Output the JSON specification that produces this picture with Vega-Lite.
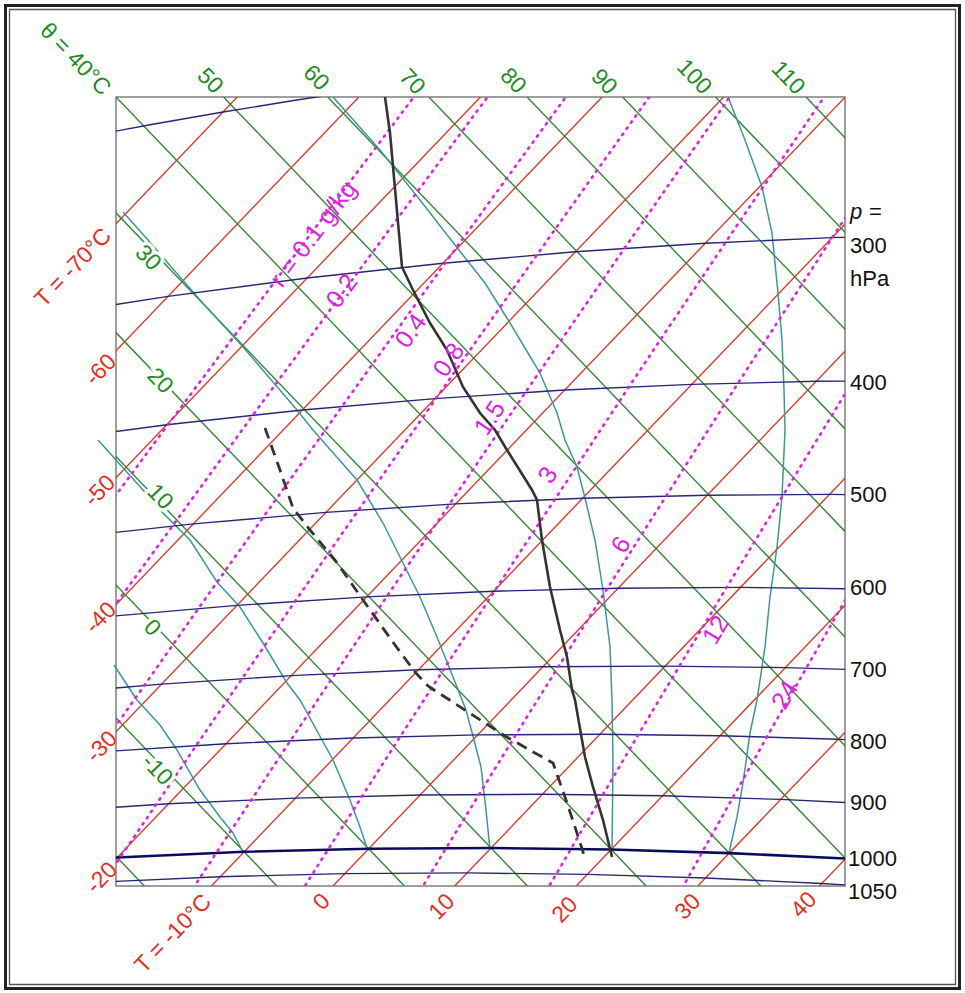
{
  "$schema": "https://vega.github.io/schema/vega-lite/v6.json",
  "width": 729,
  "height": 789,
  "autosize": {"type": "none"},
  "padding": {"left": 116, "top": 97, "right": 120, "bottom": 107},
  "background": "white",
  "config": {
    "view": {"stroke": "#7f7f7f", "strokeWidth": 1.5},
    "font": "Liberation Sans",
    "axis": {"disable": true}
  },
  "datasets": {
    "iso": [
      {"T": -70, "x": -634.2, "y": 0}, {"T": -70, "x": 121.3, "y": 789},
      {"T": -60, "x": -512.6, "y": 0}, {"T": -60, "x": 242.9, "y": 789},
      {"T": -50, "x": -391.0, "y": 0}, {"T": -50, "x": 364.5, "y": 789},
      {"T": -40, "x": -269.4, "y": 0}, {"T": -40, "x": 486.1, "y": 789},
      {"T": -30, "x": -147.8, "y": 0}, {"T": -30, "x": 607.7, "y": 789},
      {"T": -20, "x": -26.2, "y": 0}, {"T": -20, "x": 729.3, "y": 789},
      {"T": -10, "x": 95.4, "y": 0}, {"T": -10, "x": 850.9, "y": 789},
      {"T": 0, "x": 217.0, "y": 0}, {"T": 0, "x": 972.5, "y": 789},
      {"T": 10, "x": 338.6, "y": 0}, {"T": 10, "x": 1094.1, "y": 789},
      {"T": 20, "x": 460.2, "y": 0}, {"T": 20, "x": 1215.7, "y": 789},
      {"T": 30, "x": 581.8, "y": 0}, {"T": 30, "x": 1337.3, "y": 789},
      {"T": 40, "x": 703.4, "y": 0}, {"T": 40, "x": 1458.9, "y": 789}
    ],
    "adiab": [
      {"th": -20, "x": 28.4, "y": 0}, {"th": -20, "x": -727.4, "y": 789},
      {"th": -10, "x": 160.9, "y": 0}, {"th": -10, "x": -594.9, "y": 789},
      {"th": 0, "x": 288.4, "y": 0}, {"th": 0, "x": -467.4, "y": 789},
      {"th": 10, "x": 411.4, "y": 0}, {"th": 10, "x": -344.4, "y": 789},
      {"th": 20, "x": 530.1, "y": 0}, {"th": 20, "x": -225.7, "y": 789},
      {"th": 30, "x": 644.8, "y": 0}, {"th": 30, "x": -111.0, "y": 789},
      {"th": 40, "x": 755.8, "y": 0}, {"th": 40, "x": 0, "y": 789},
      {"th": 50, "x": 863.3, "y": 0}, {"th": 50, "x": 107.5, "y": 789},
      {"th": 60, "x": 967.5, "y": 0}, {"th": 60, "x": 211.7, "y": 789},
      {"th": 70, "x": 1068.7, "y": 0}, {"th": 70, "x": 312.9, "y": 789},
      {"th": 80, "x": 1166.9, "y": 0}, {"th": 80, "x": 411.1, "y": 789},
      {"th": 90, "x": 1262.4, "y": 0}, {"th": 90, "x": 506.6, "y": 789},
      {"th": 100, "x": 1355.3, "y": 0}, {"th": 100, "x": 599.5, "y": 789},
      {"th": 110, "x": 1445.8, "y": 0}, {"th": 110, "x": 690.0, "y": 789}
    ],
    "isobar": [
      {"p": 1050, "x": -22.8, "y": 3.6}, {"p": 1050, "x": 104.3, "y": 9.3}, {"p": 1050, "x": 228.9, "y": 12.4}, {"p": 1050, "x": 351.2, "y": 13.1}, {"p": 1050, "x": 471.3, "y": 11.6}, {"p": 1050, "x": 589.5, "y": 8.0}, {"p": 1050, "x": 705.8, "y": 2.5}, {"p": 1050, "x": 763.3, "y": -1.0},
      {"p": 1000, "x": -63.5, "y": 24.6}, {"p": 1000, "x": 1.1, "y": 28.5}, {"p": 1000, "x": 128.2, "y": 34.2}, {"p": 1000, "x": 252.7, "y": 37.3}, {"p": 1000, "x": 375.0, "y": 38.0}, {"p": 1000, "x": 495.2, "y": 36.5}, {"p": 1000, "x": 613.3, "y": 32.9}, {"p": 1000, "x": 729.6, "y": 27.4},
      {"p": 900, "x": -77.2, "y": 73.7}, {"p": 900, "x": 52.6, "y": 82.2}, {"p": 900, "x": 179.6, "y": 87.9}, {"p": 900, "x": 304.2, "y": 91.0}, {"p": 900, "x": 426.5, "y": 91.7}, {"p": 900, "x": 546.6, "y": 90.2}, {"p": 900, "x": 664.8, "y": 86.6}, {"p": 900, "x": 781.1, "y": 81.1},
      {"p": 800, "x": -19.7, "y": 133.8}, {"p": 800, "x": 110.1, "y": 142.3}, {"p": 800, "x": 237.2, "y": 148.0}, {"p": 800, "x": 361.7, "y": 151.1}, {"p": 800, "x": 484.0, "y": 151.8}, {"p": 800, "x": 604.2, "y": 150.3}, {"p": 800, "x": 722.3, "y": 146.7}, {"p": 800, "x": 838.6, "y": 141.2},
      {"p": 700, "x": -87.0, "y": 190.5}, {"p": 700, "x": 45.6, "y": 201.9}, {"p": 700, "x": 175.4, "y": 210.4}, {"p": 700, "x": 302.4, "y": 216.2}, {"p": 700, "x": 427.0, "y": 219.2}, {"p": 700, "x": 549.3, "y": 219.9}, {"p": 700, "x": 669.4, "y": 218.4}, {"p": 700, "x": 787.6, "y": 214.8},
      {"p": 600, "x": -147.5, "y": 254.3}, {"p": 600, "x": -11.7, "y": 269.1}, {"p": 600, "x": 120.9, "y": 280.6}, {"p": 600, "x": 250.7, "y": 289.1}, {"p": 600, "x": 377.7, "y": 294.8}, {"p": 600, "x": 502.3, "y": 297.8}, {"p": 600, "x": 624.6, "y": 298.6}, {"p": 600, "x": 744.7, "y": 297.1},
      {"p": 500, "x": -58.4, "y": 347.3}, {"p": 500, "x": 77.4, "y": 362.1}, {"p": 500, "x": 210.0, "y": 373.6}, {"p": 500, "x": 339.8, "y": 382.1}, {"p": 500, "x": 466.8, "y": 387.8}, {"p": 500, "x": 591.4, "y": 390.8}, {"p": 500, "x": 713.7, "y": 391.6}, {"p": 500, "x": 833.8, "y": 390.0},
      {"p": 400, "x": -88.6, "y": 442.8}, {"p": 400, "x": 50.7, "y": 461.2}, {"p": 400, "x": 186.4, "y": 476.0}, {"p": 400, "x": 319.0, "y": 487.4}, {"p": 400, "x": 448.8, "y": 496.0}, {"p": 400, "x": 575.8, "y": 501.6}, {"p": 400, "x": 700.4, "y": 504.7}, {"p": 400, "x": 822.7, "y": 505.5},
      {"p": 300, "x": -91.0, "y": 567.2}, {"p": 300, "x": 52.0, "y": 589.6}, {"p": 300, "x": 191.2, "y": 608.0}, {"p": 300, "x": 327.0, "y": 622.7}, {"p": 300, "x": 459.6, "y": 634.2}, {"p": 300, "x": 589.3, "y": 642.7}, {"p": 300, "x": 716.4, "y": 648.4}, {"p": 300, "x": 841.0, "y": 651.4},
      {"p": 200, "x": -40.0, "y": 747.4}, {"p": 200, "x": 34.1, "y": 761.3}, {"p": 200, "x": 107.1, "y": 774.0}, {"p": 200, "x": 179.1, "y": 785.7}, {"p": 200, "x": 250.1, "y": 796.4}
    ],
    "mixr": [
      {"r": 0.1, "p": 800, "x": -201.8, "y": 117.2}, {"r": 0.1, "p": 600, "x": -97.0, "y": 260.1}, {"r": 0.1, "p": 400, "x": 52.0, "y": 461.3}, {"r": 0.1, "p": 300, "x": 158.3, "y": 603.7}, {"r": 0.1, "p": 200, "x": 309.5, "y": 804.5},
      {"r": 0.2, "p": 800, "x": -112.5, "y": 126.0}, {"r": 0.2, "p": 600, "x": -9.4, "y": 269.3}, {"r": 0.2, "p": 400, "x": 136.9, "y": 470.8}, {"r": 0.2, "p": 300, "x": 241.7, "y": 613.7}, {"r": 0.2, "p": 200, "x": 390.7, "y": 814.9},
      {"r": 0.4, "p": 1000, "x": -96.5, "y": 22.3}, {"r": 0.4, "p": 800, "x": -18.6, "y": 133.9}, {"r": 0.4, "p": 600, "x": 82.3, "y": 277.4}, {"r": 0.4, "p": 400, "x": 226.1, "y": 479.6}, {"r": 0.4, "p": 300, "x": 329.1, "y": 622.9}, {"r": 0.4, "p": 200, "x": 475.5, "y": 824.4},
      {"r": 0.8, "p": 1100, "x": -28.1, "y": -19.2}, {"r": 0.8, "p": 1000, "x": 4.3, "y": 28.7}, {"r": 0.8, "p": 800, "x": 80.2, "y": 140.5}, {"r": 0.8, "p": 600, "x": 179.1, "y": 284.7}, {"r": 0.8, "p": 400, "x": 320.0, "y": 487.5}, {"r": 0.8, "p": 300, "x": 421.0, "y": 631.2}, {"r": 0.8, "p": 200, "x": 564.7, "y": 833.3},
      {"r": 1.5, "p": 1100, "x": 68.8, "y": -14.9}, {"r": 1.5, "p": 1000, "x": 100.3, "y": 33.1}, {"r": 1.5, "p": 800, "x": 174.6, "y": 145.6}, {"r": 1.5, "p": 600, "x": 271.2, "y": 290.1}, {"r": 1.5, "p": 400, "x": 409.3, "y": 493.5}, {"r": 1.5, "p": 300, "x": 508.4, "y": 637.6}, {"r": 1.5, "p": 200, "x": 649.5, "y": 840.3},
      {"r": 3, "p": 1100, "x": 181.4, "y": -11.8}, {"r": 3, "p": 1000, "x": 212.0, "y": 36.4}, {"r": 3, "p": 800, "x": 284.2, "y": 149.4}, {"r": 3, "p": 600, "x": 378.4, "y": 294.8}, {"r": 3, "p": 400, "x": 512.9, "y": 499.1}, {"r": 3, "p": 300, "x": 609.6, "y": 643.7}, {"r": 3, "p": 200, "x": 747.5, "y": 847.1},
      {"r": 6, "p": 1100, "x": 300.5, "y": -10.7}, {"r": 6, "p": 1000, "x": 330.1, "y": 37.9}, {"r": 6, "p": 800, "x": 400.0, "y": 151.5}, {"r": 6, "p": 600, "x": 491.4, "y": 297.6}, {"r": 6, "p": 400, "x": 622.1, "y": 503.0}, {"r": 6, "p": 300, "x": 716.1, "y": 648.2}, {"r": 6, "p": 200, "x": 851.0, "y": 852.8},
      {"r": 12, "p": 1100, "x": 426.5, "y": -11.7}, {"r": 12, "p": 1000, "x": 455.0, "y": 37.2}, {"r": 12, "p": 800, "x": 522.4, "y": 151.5}, {"r": 12, "p": 600, "x": 610.6, "y": 298.6}, {"r": 12, "p": 400, "x": 737.0, "y": 505.1}, {"r": 12, "p": 300, "x": 828.4, "y": 651.3},
      {"r": 24, "p": 1100, "x": 559.0, "y": -15.5}, {"r": 24, "p": 1000, "x": 586.2, "y": 33.8}, {"r": 24, "p": 800, "x": 650.9, "y": 149.1}, {"r": 24, "p": 600, "x": 735.7, "y": 297.2}
    ],
    "satad": [
      {"tw": 30, "k": 0, "x": 612, "y": 789}, {"tw": 30, "k": 1, "x": 629, "y": 746}, {"tw": 30, "k": 2, "x": 646, "y": 699}, {"tw": 30, "k": 3, "x": 656, "y": 653}, {"tw": 30, "k": 4, "x": 662, "y": 593}, {"tw": 30, "k": 5, "x": 666, "y": 546}, {"tw": 30, "k": 6, "x": 668, "y": 496}, {"tw": 30, "k": 7, "x": 669, "y": 456}, {"tw": 30, "k": 8, "x": 666, "y": 389}, {"tw": 30, "k": 9, "x": 661, "y": 339}, {"tw": 30, "k": 10, "x": 654, "y": 289}, {"tw": 30, "k": 11, "x": 649, "y": 239}, {"tw": 30, "k": 12, "x": 641, "y": 186}, {"tw": 30, "k": 13, "x": 634, "y": 153}, {"tw": 30, "k": 14, "x": 627, "y": 103}, {"tw": 30, "k": 15, "x": 621, "y": 69}, {"tw": 30, "k": 16, "x": 613, "y": 33},
      {"tw": 20, "k": 0, "x": 217, "y": 789}, {"tw": 20, "k": 1, "x": 264, "y": 736}, {"tw": 20, "k": 2, "x": 304, "y": 686}, {"tw": 20, "k": 3, "x": 339, "y": 641}, {"tw": 20, "k": 4, "x": 369, "y": 603}, {"tw": 20, "k": 5, "x": 394, "y": 563}, {"tw": 20, "k": 6, "x": 424, "y": 513}, {"tw": 20, "k": 7, "x": 441, "y": 473}, {"tw": 20, "k": 8, "x": 449, "y": 446}, {"tw": 20, "k": 9, "x": 461, "y": 419}, {"tw": 20, "k": 10, "x": 469, "y": 388}, {"tw": 20, "k": 11, "x": 479, "y": 346}, {"tw": 20, "k": 12, "x": 487, "y": 296}, {"tw": 20, "k": 13, "x": 494, "y": 239}, {"tw": 20, "k": 14, "x": 496, "y": 186}, {"tw": 20, "k": 15, "x": 497, "y": 126}, {"tw": 20, "k": 16, "x": 496, "y": 34},
      {"tw": 10, "k": 0, "x": 7, "y": 674}, {"tw": 10, "k": 1, "x": 32, "y": 646}, {"tw": 10, "k": 2, "x": 51, "y": 624}, {"tw": 10, "k": 3, "x": 84, "y": 586}, {"tw": 10, "k": 4, "x": 127, "y": 539}, {"tw": 10, "k": 5, "x": 181, "y": 476}, {"tw": 10, "k": 6, "x": 197, "y": 456}, {"tw": 10, "k": 7, "x": 241, "y": 406}, {"tw": 10, "k": 8, "x": 267, "y": 363}, {"tw": 10, "k": 9, "x": 287, "y": 323}, {"tw": 10, "k": 10, "x": 304, "y": 289}, {"tw": 10, "k": 11, "x": 321, "y": 249}, {"tw": 10, "k": 12, "x": 341, "y": 199}, {"tw": 10, "k": 13, "x": 350, "y": 176}, {"tw": 10, "k": 14, "x": 358, "y": 146}, {"tw": 10, "k": 15, "x": 365, "y": 119}, {"tw": 10, "k": 16, "x": 370, "y": 76}, {"tw": 10, "k": 17, "x": 374, "y": 36},
      {"tw": 0, "k": 0, "x": -18, "y": 446}, {"tw": 0, "k": 1, "x": 27, "y": 396}, {"tw": 0, "k": 2, "x": 46, "y": 374}, {"tw": 0, "k": 3, "x": 74, "y": 346}, {"tw": 0, "k": 4, "x": 101, "y": 304}, {"tw": 0, "k": 5, "x": 124, "y": 279}, {"tw": 0, "k": 6, "x": 147, "y": 243}, {"tw": 0, "k": 7, "x": 171, "y": 203}, {"tw": 0, "k": 8, "x": 184, "y": 186}, {"tw": 0, "k": 9, "x": 217, "y": 126}, {"tw": 0, "k": 10, "x": 234, "y": 86}, {"tw": 0, "k": 11, "x": 244, "y": 59}, {"tw": 0, "k": 12, "x": 252, "y": 35},
      {"tw": -10, "k": 0, "x": -2, "y": 221}, {"tw": -10, "k": 1, "x": 21, "y": 186}, {"tw": -10, "k": 2, "x": 44, "y": 161}, {"tw": -10, "k": 3, "x": 61, "y": 136}, {"tw": -10, "k": 4, "x": 84, "y": 96}, {"tw": -10, "k": 5, "x": 104, "y": 69}, {"tw": -10, "k": 6, "x": 117, "y": 53}, {"tw": -10, "k": 7, "x": 127, "y": 34}
    ],
    "temp": [
      {"k": 0, "x": 269, "y": 789}, {"k": 1, "x": 274, "y": 753}, {"k": 2, "x": 280, "y": 686}, {"k": 3, "x": 286, "y": 619}, {"k": 4, "x": 297, "y": 596}, {"k": 5, "x": 314, "y": 563}, {"k": 6, "x": 331, "y": 536}, {"k": 7, "x": 347, "y": 499}, {"k": 8, "x": 364, "y": 473}, {"k": 9, "x": 379, "y": 456}, {"k": 10, "x": 391, "y": 436}, {"k": 11, "x": 416, "y": 396}, {"k": 12, "x": 421, "y": 386}, {"k": 13, "x": 426, "y": 346}, {"k": 14, "x": 434, "y": 299}, {"k": 15, "x": 444, "y": 256}, {"k": 16, "x": 451, "y": 229}, {"k": 17, "x": 456, "y": 196}, {"k": 18, "x": 459, "y": 186}, {"k": 19, "x": 469, "y": 129}, {"k": 20, "x": 477, "y": 99}, {"k": 21, "x": 487, "y": 66}, {"k": 22, "x": 496, "y": 29}
    ],
    "dew": [
      {"k": 0, "x": 149, "y": 458}, {"k": 1, "x": 164, "y": 416}, {"k": 2, "x": 177, "y": 378}, {"k": 3, "x": 194, "y": 356}, {"k": 4, "x": 219, "y": 326}, {"k": 5, "x": 247, "y": 286}, {"k": 6, "x": 279, "y": 241}, {"k": 7, "x": 299, "y": 214}, {"k": 8, "x": 312, "y": 200}, {"k": 9, "x": 352, "y": 174}, {"k": 10, "x": 389, "y": 150}, {"k": 11, "x": 419, "y": 133}, {"k": 12, "x": 437, "y": 123}, {"k": 13, "x": 449, "y": 89}, {"k": 14, "x": 461, "y": 53}, {"k": 15, "x": 467, "y": 34}, {"k": 16, "x": 469, "y": 28}
    ],
    "topLab": [
      {"t": "50", "x": 94, "y": 805}, {"t": "60", "x": 200, "y": 808}, {"t": "70", "x": 296, "y": 804}, {"t": "80", "x": 397, "y": 805}, {"t": "90", "x": 488, "y": 804}, {"t": "100", "x": 578, "y": 809}, {"t": "110", "x": 672, "y": 808}
    ],
    "leftGreen": [
      {"t": "30", "x": 32, "y": 628}, {"t": "20", "x": 44, "y": 505}, {"t": "10", "x": 44, "y": 389}, {"t": "0", "x": 36, "y": 258}, {"t": "-10", "x": 41, "y": 116}
    ],
    "redLab": [
      {"t": "-60", "x": -15, "y": 516}, {"t": "-50", "x": -16, "y": 395}, {"t": "-40", "x": -15, "y": 268}, {"t": "-30", "x": -14, "y": 139}, {"t": "-20", "x": -14, "y": 8},
      {"t": "0", "x": 206, "y": -16}, {"t": "10", "x": 326, "y": -21}, {"t": "20", "x": 449, "y": -24}, {"t": "30", "x": 572, "y": -21}, {"t": "40", "x": 688, "y": -19}
    ],
    "redTitle": [
      {"t": "T = -70°C", "x": -8.4, "y": 653.8}, {"t": "T = -10°C", "x": 91.6, "y": -12.2}
    ],
    "greenTitle": [
      {"t": "θ = 40°C", "x": -9.4, "y": 794.2}
    ],
    "pLab": [
      {"t": "=", "x": 753, "y": 674}, {"t": "300", "x": 734, "y": 640}, {"t": "hPa", "x": 734, "y": 607}, {"t": "400", "x": 734, "y": 503}, {"t": "500", "x": 734, "y": 391}, {"t": "600", "x": 734, "y": 298}, {"t": "700", "x": 734, "y": 216}, {"t": "800", "x": 734, "y": 144}, {"t": "900", "x": 734, "y": 83}, {"t": "1000", "x": 732, "y": 27}, {"t": "1050", "x": 732, "y": -6}
    ],
    "pItal": [
      {"t": "p", "x": 734, "y": 674}
    ],
    "rLab": [
      {"t": "r = 0.1 g/kg", "r": 0.1, "x": 197.5, "y": 652}, {"t": "0.2", "r": 0.2, "x": 226, "y": 595}, {"t": "0.4", "r": 0.4, "x": 295, "y": 555}, {"t": "0.8", "r": 0.8, "x": 333, "y": 526}, {"t": "1.5", "r": 1.5, "x": 374, "y": 468}, {"t": "3", "r": 3, "x": 432, "y": 411}, {"t": "6", "r": 6, "x": 505, "y": 341}, {"t": "12", "r": 12, "x": 600, "y": 256}, {"t": "24", "r": 24, "x": 669, "y": 191}
    ]
  },
  "layer": [
    {
      "data": {"values": [{}]},
      "mark": {"type": "rect", "fill": null, "fillOpacity": 0, "stroke": "#222222", "strokeWidth": 3},
      "encoding": {
        "x": {"datum": -110.5, "type": "quantitative", "scale": {"domain": [0, 729], "nice": false, "zero": false}, "axis": null},
        "x2": {"datum": 843.5},
        "y": {"datum": 880.5, "type": "quantitative", "scale": {"domain": [0, 789], "nice": false, "zero": false}, "axis": null},
        "y2": {"datum": -102.5}
      }
    },
    {
      "data": {"values": [{}]},
      "mark": {"type": "rect", "fill": null, "fillOpacity": 0, "stroke": "#555555", "strokeWidth": 1.3},
      "encoding": {
        "x": {"datum": -106.5, "type": "quantitative", "axis": null},
        "x2": {"datum": 839.5},
        "y": {"datum": 876.5, "type": "quantitative", "axis": null},
        "y2": {"datum": -98.5}
      }
    },
    {
      "data": {"name": "iso"},
      "mark": {"type": "line", "clip": true, "color": "#dc3c2c", "strokeWidth": 1.4},
      "encoding": {
        "x": {"field": "x", "type": "quantitative", "axis": null},
        "y": {"field": "y", "type": "quantitative", "axis": null},
        "detail": {"field": "T", "type": "nominal"}
      }
    },
    {
      "data": {"name": "adiab"},
      "mark": {"type": "line", "clip": true, "color": "#338833", "strokeWidth": 1.4},
      "encoding": {
        "x": {"field": "x", "type": "quantitative", "axis": null},
        "y": {"field": "y", "type": "quantitative", "axis": null},
        "detail": {"field": "th", "type": "nominal"}
      }
    },
    {
      "data": {"name": "satad"},
      "mark": {"type": "line", "clip": false, "color": "#3a9898", "strokeWidth": 1.5},
      "encoding": {
        "x": {"field": "x", "type": "quantitative", "axis": null},
        "y": {"field": "y", "type": "quantitative", "axis": null},
        "detail": {"field": "tw", "type": "nominal"},
        "order": {"field": "k", "type": "quantitative"}
      }
    },
    {
      "data": {"name": "isobar"},
      "transform": [{"filter": "datum.p != 1000"}],
      "mark": {"type": "line", "clip": true, "color": "#262673", "strokeWidth": 1.4},
      "encoding": {
        "x": {"field": "x", "type": "quantitative", "axis": null},
        "y": {"field": "y", "type": "quantitative", "axis": null},
        "detail": {"field": "p", "type": "nominal"}
      }
    },
    {
      "data": {"name": "isobar"},
      "transform": [{"filter": "datum.p == 1000"}],
      "mark": {"type": "line", "clip": true, "color": "#0b0b5e", "strokeWidth": 2.6},
      "encoding": {
        "x": {"field": "x", "type": "quantitative", "axis": null},
        "y": {"field": "y", "type": "quantitative", "axis": null},
        "detail": {"field": "p", "type": "nominal"}
      }
    },
    {
      "data": {"name": "mixr"},
      "mark": {"type": "line", "clip": true, "color": "#e01fe0", "strokeWidth": 2.6, "strokeDash": [1.5, 6], "strokeCap": "round"},
      "encoding": {
        "x": {"field": "x", "type": "quantitative", "axis": null},
        "y": {"field": "y", "type": "quantitative", "axis": null},
        "detail": {"field": "r", "type": "nominal"}
      }
    },
    {
      "data": {"name": "temp"},
      "mark": {"type": "line", "clip": true, "color": "#333333", "strokeWidth": 2.6},
      "encoding": {
        "x": {"field": "x", "type": "quantitative", "axis": null},
        "y": {"field": "y", "type": "quantitative", "axis": null},
        "order": {"field": "k", "type": "quantitative"}
      }
    },
    {
      "data": {"name": "dew"},
      "mark": {"type": "line", "clip": true, "color": "#333333", "strokeWidth": 2.8, "strokeDash": [11, 7]},
      "encoding": {
        "x": {"field": "x", "type": "quantitative", "axis": null},
        "y": {"field": "y", "type": "quantitative", "axis": null},
        "order": {"field": "k", "type": "quantitative"}
      }
    },
    {
      "data": {"name": "leftGreen"},
      "mark": {"type": "text", "angle": 46, "fontSize": 23, "font": "Liberation Sans", "align": "center", "baseline": "middle", "fill": "white", "stroke": "white", "strokeWidth": 7},
      "encoding": {
        "x": {"field": "x", "type": "quantitative", "axis": null},
        "y": {"field": "y", "type": "quantitative", "axis": null},
        "text": {"field": "t"}
      }
    },
    {
      "data": {"name": "leftGreen"},
      "mark": {"type": "text", "angle": 46, "fontSize": 23, "font": "Liberation Sans", "align": "center", "baseline": "middle", "fill": "#1f8c1f"},
      "encoding": {
        "x": {"field": "x", "type": "quantitative", "axis": null},
        "y": {"field": "y", "type": "quantitative", "axis": null},
        "text": {"field": "t"}
      }
    },
    {
      "data": {"name": "topLab"},
      "mark": {"type": "text", "angle": 46, "fontSize": 23, "font": "Liberation Sans", "align": "center", "baseline": "middle", "fill": "#1f8c1f"},
      "encoding": {
        "x": {"field": "x", "type": "quantitative", "axis": null},
        "y": {"field": "y", "type": "quantitative", "axis": null},
        "text": {"field": "t"}
      }
    },
    {
      "data": {"name": "greenTitle"},
      "mark": {"type": "text", "angle": 46, "fontSize": 23, "font": "Liberation Sans", "align": "right", "baseline": "middle", "fill": "#1f8c1f"},
      "encoding": {
        "x": {"field": "x", "type": "quantitative", "axis": null},
        "y": {"field": "y", "type": "quantitative", "axis": null},
        "text": {"field": "t"}
      }
    },
    {
      "data": {"name": "redLab"},
      "mark": {"type": "text", "angle": -46, "fontSize": 23, "font": "Liberation Sans", "align": "center", "baseline": "middle", "fill": "#e62e1e"},
      "encoding": {
        "x": {"field": "x", "type": "quantitative", "axis": null},
        "y": {"field": "y", "type": "quantitative", "axis": null},
        "text": {"field": "t"}
      }
    },
    {
      "data": {"name": "redTitle"},
      "mark": {"type": "text", "angle": -46, "fontSize": 23, "font": "Liberation Sans", "align": "right", "baseline": "middle", "fill": "#e62e1e"},
      "encoding": {
        "x": {"field": "x", "type": "quantitative", "axis": null},
        "y": {"field": "y", "type": "quantitative", "axis": null},
        "text": {"field": "t"}
      }
    },
    {
      "data": {"name": "pLab"},
      "mark": {"type": "text", "fontSize": 22, "font": "Liberation Sans", "align": "left", "baseline": "middle", "fill": "#111111"},
      "encoding": {
        "x": {"field": "x", "type": "quantitative", "axis": null},
        "y": {"field": "y", "type": "quantitative", "axis": null},
        "text": {"field": "t"}
      }
    },
    {
      "data": {"name": "pItal"},
      "mark": {"type": "text", "fontSize": 22, "font": "Liberation Sans", "fontStyle": "italic", "align": "left", "baseline": "middle", "fill": "#111111"},
      "encoding": {
        "x": {"field": "x", "type": "quantitative", "axis": null},
        "y": {"field": "y", "type": "quantitative", "axis": null},
        "text": {"field": "t"}
      }
    },
    {
      "data": {"name": "rLab"},
      "mark": {"type": "text", "fontSize": 25, "font": "Liberation Sans", "align": "center", "baseline": "middle", "fill": "#dd22dd"},
      "encoding": {
        "x": {"field": "x", "type": "quantitative", "axis": null},
        "y": {"field": "y", "type": "quantitative", "axis": null},
        "text": {"field": "t"},
        "angle": {"field": "r", "type": "quantitative", "scale": {"type": "log", "domain": [0.1, 24], "range": [307, 300]}, "legend": null}
      }
    }
  ]
}
